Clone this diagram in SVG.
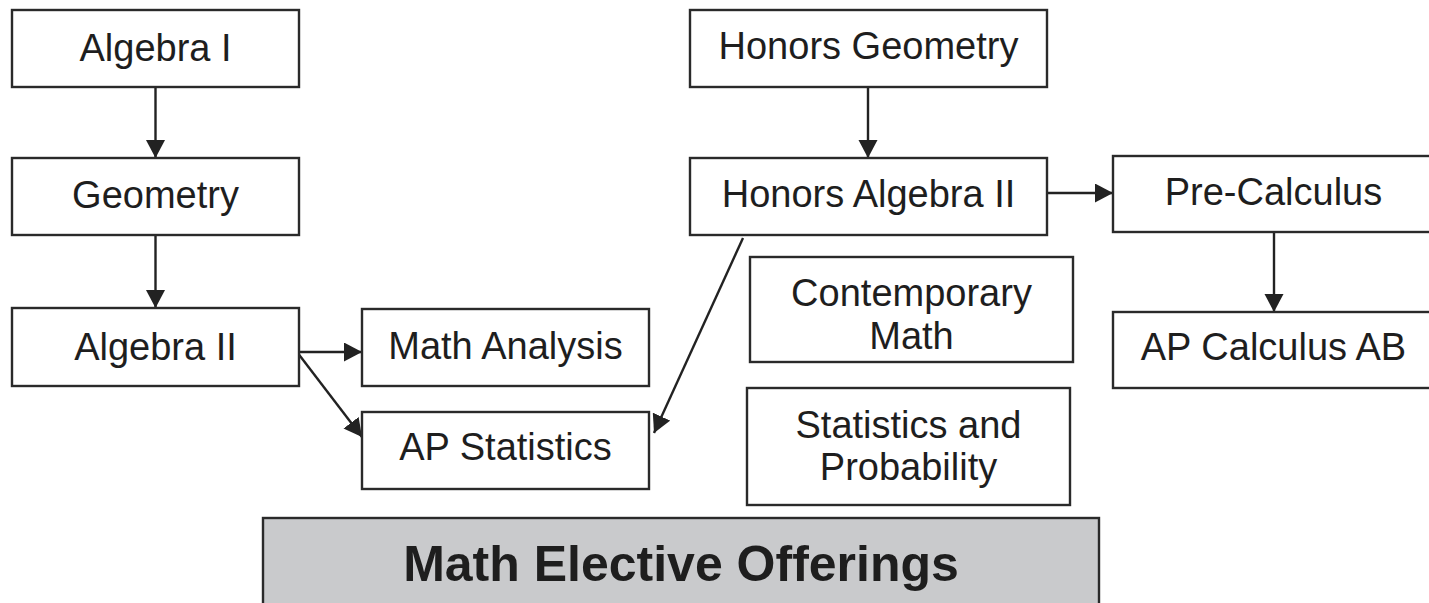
<svg xmlns="http://www.w3.org/2000/svg" width="1429" height="603" viewBox="0 0 1429 603">
<style>
.box{fill:#ffffff;stroke:#2a2a2a;stroke-width:2.4}
.t{font-family:"Liberation Sans",Arial,sans-serif;font-size:38px;fill:#1e1e1e;text-anchor:middle}
.conn{stroke:#222222;stroke-width:2.4;fill:none;marker-end:url(#ah)}
.title{font-family:"Liberation Sans",Arial,sans-serif;font-size:50px;font-weight:bold;fill:#1e1e1e;text-anchor:middle}
</style>
<defs>
<marker id="ah" markerUnits="userSpaceOnUse" markerWidth="20" markerHeight="20" refX="18" refY="9.5" orient="auto">
<path d="M0,0 L18,9.5 L0,19 z" fill="#222222"/>
</marker>
</defs>
<rect width="1429" height="603" fill="#ffffff"/>
<g id="connectors">
<line class="conn" x1="155.5" y1="87" x2="155.5" y2="158"/>
<line class="conn" x1="155.5" y1="235" x2="155.5" y2="308"/>
<line class="conn" x1="297" y1="352" x2="362" y2="352"/>
<line class="conn" x1="297" y1="352" x2="362" y2="437"/>
<line class="conn" x1="868" y1="87" x2="868" y2="158"/>
<line class="conn" x1="1047" y1="193" x2="1113" y2="193"/>
<line class="conn" x1="1274" y1="232" x2="1274" y2="312"/>
<line class="conn" x1="743" y1="238" x2="654" y2="433"/>
</g>
<g id="algebra1"><rect class="box" x="12" y="10" width="287" height="77"/><text class="t" x="155.5" y="61">Algebra I</text></g>
<g id="geometry"><rect class="box" x="12" y="158" width="287" height="77"/><text class="t" x="155.5" y="208">Geometry</text></g>
<g id="algebra2"><rect class="box" x="12" y="308" width="287" height="78"/><text class="t" x="155.5" y="360">Algebra II</text></g>
<g id="math-analysis"><rect class="box" x="362" y="309" width="287" height="77"/><text class="t" x="505.5" y="359">Math Analysis</text></g>
<g id="ap-statistics"><rect class="box" x="362" y="412" width="287" height="77"/><text class="t" x="505.5" y="460">AP Statistics</text></g>
<g id="honors-geometry"><rect class="box" x="690" y="10" width="357" height="77"/><text class="t" x="868.5" y="59">Honors Geometry</text></g>
<g id="honors-algebra2"><rect class="box" x="690" y="158" width="357" height="77"/><text class="t" x="868.5" y="207">Honors Algebra II</text></g>
<g id="contemporary-math"><rect class="box" x="750" y="257" width="323" height="105"/><text class="t" x="911.5" y="306">Contemporary</text><text class="t" x="911.5" y="349">Math</text></g>
<g id="stats-prob"><rect class="box" x="747" y="388" width="323" height="117"/><text class="t" x="908.5" y="438">Statistics and</text><text class="t" x="908.5" y="480">Probability</text></g>
<g id="pre-calculus"><rect class="box" x="1113" y="156" width="330" height="76"/><text class="t" x="1273.5" y="205">Pre-Calculus</text></g>
<g id="ap-calculus"><rect class="box" x="1113" y="312" width="330" height="76"/><text class="t" x="1273.5" y="360">AP Calculus AB</text></g>
<g id="electives"><rect x="263" y="518" width="836" height="100" fill="#c9cacc" stroke="#2a2a2a" stroke-width="2.4"/><text class="title" x="681" y="581">Math Elective Offerings</text></g>
</svg>
